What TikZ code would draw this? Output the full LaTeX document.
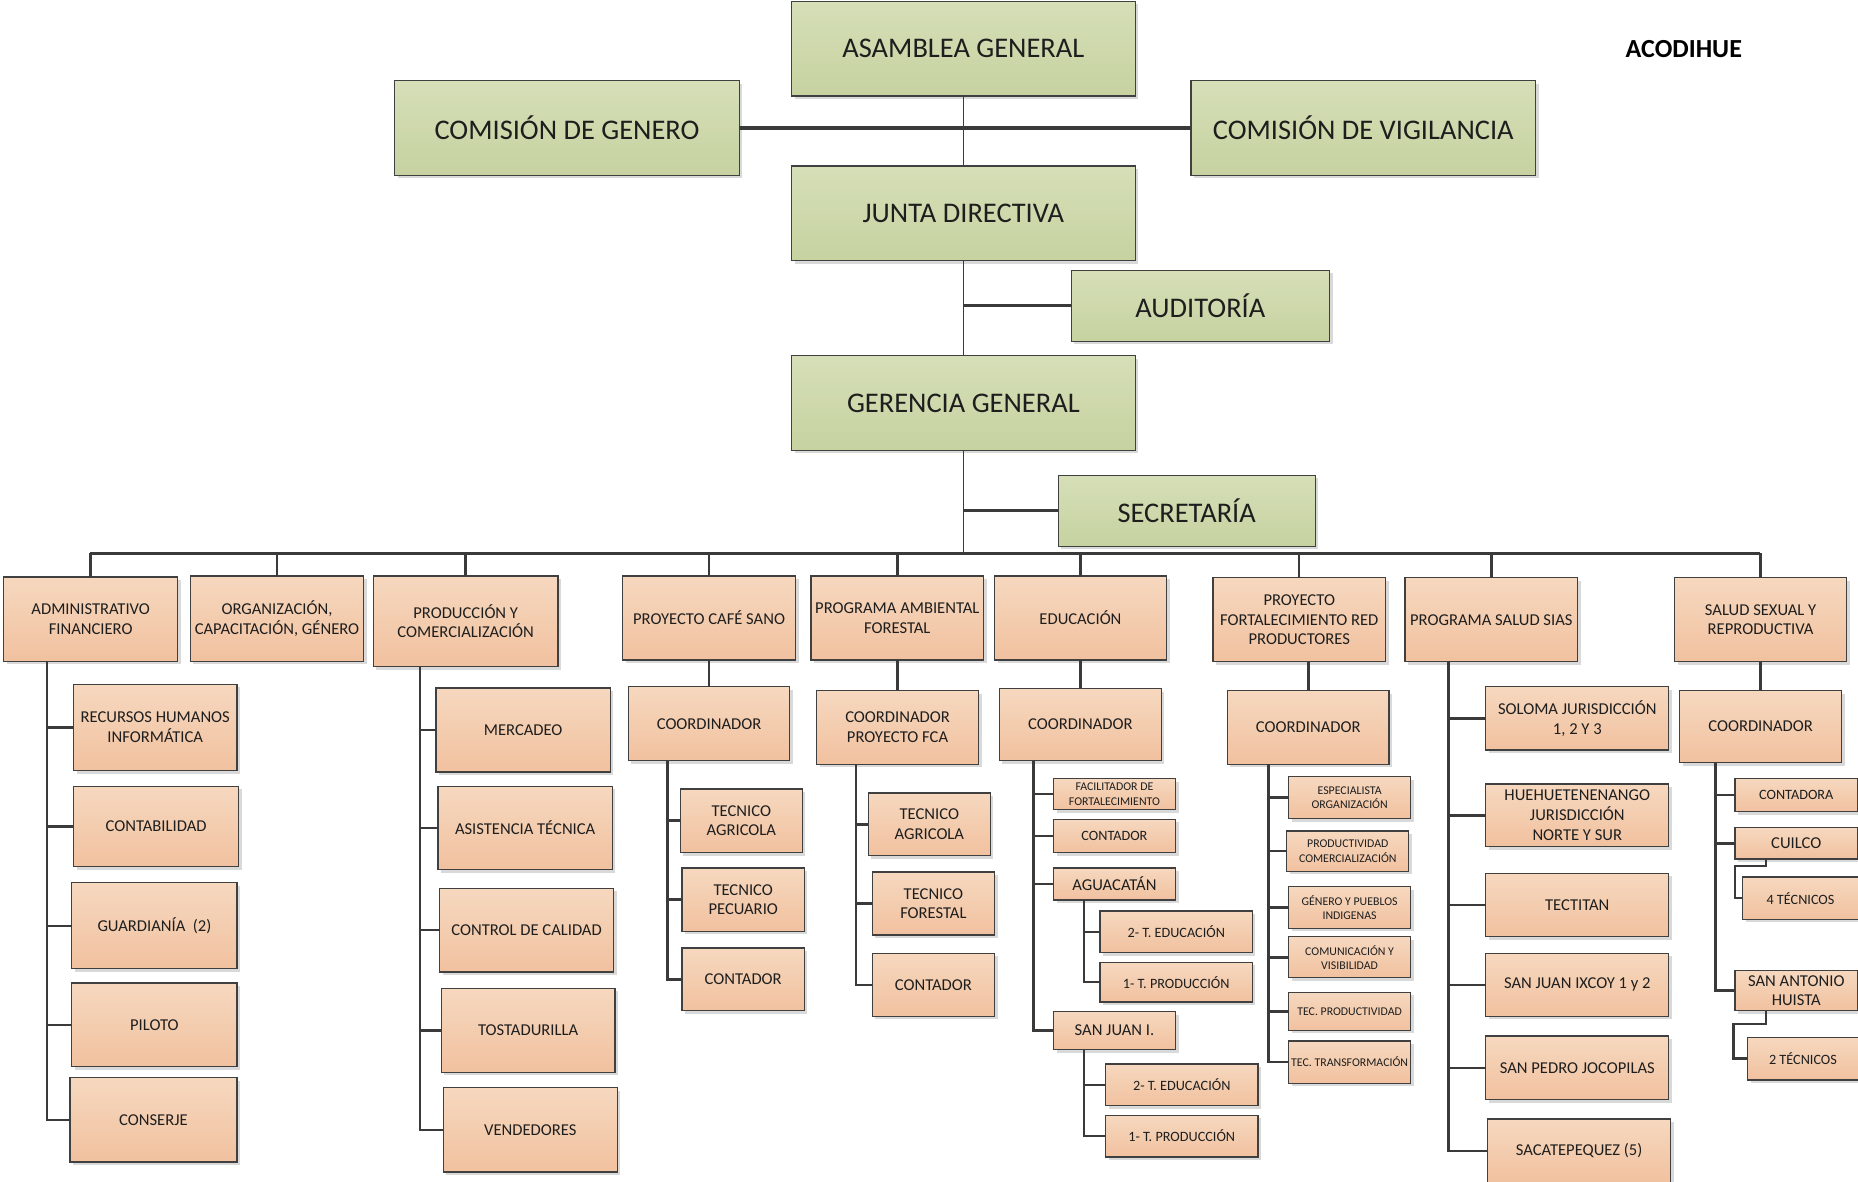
\documentclass[tikz,border=0pt]{standalone}
\usepackage{fontspec}
\setmainfont{Carlito}
\usetikzlibrary{shadows}
\definecolor{gtop}{HTML}{D6DFB8}
\definecolor{gbot}{HTML}{C6D2A0}
\definecolor{otop}{HTML}{F6D8BF}
\definecolor{obot}{HTML}{F1C19F}
\definecolor{bord}{HTML}{404040}
\definecolor{lnc}{HTML}{3A3A3A}
\definecolor{txt}{HTML}{1E1E1E}
\newcommand\bx[7]{%
  \pgfmathsetmacro\bw{(#4-#2)*0.5}%
  \pgfmathsetmacro\bh{(#5-#3)*0.5}%
  \node[#6, minimum width=\bw pt, minimum height=\bh pt] (#1) at ({(#2+#4)/2},{(#3+#5)/2}) {#7};}
\tikzset{
  shbox/.style={draw=bord, line width=0.55pt, align=center, inner sep=0pt, outer sep=0pt, text=txt,
    drop shadow={shadow xshift=1.3pt, shadow yshift=-1.3pt, fill=black!15, opacity=1}},
  gbox/.style={shbox, top color=gtop, bottom color=gbot, font=\fontsize{12}{14}\selectfont},
  obox/.style={shbox, top color=otop, bottom color=obot, font=\fontsize{7}{8.3}\selectfont},
  ssm/.style={font=\fontsize{6}{7}\selectfont},
  xsm/.style={font=\fontsize{5}{6}\selectfont},
  conn/.style={draw=lnc, line width=1.05pt},
  thinl/.style={draw=lnc, line width=0.5pt},
  busl/.style={draw=lnc, line width=1.3pt}
}
\begin{document}
\begin{tikzpicture}[x=0.5pt,y=-0.5pt]
\clip (0,0) rectangle (1568,997.5);
\fill[white] (0,0) rectangle (1568,997.5);
% top level
\bx{asam}{668}{1}{958}{81}{gbox}{ASAMBLEA GENERAL}
\bx{cgen}{333}{68}{624}{148}{gbox}{COMISIÓN DE GENERO}
\bx{cvig}{1005}{68}{1296}{148}{gbox}{COMISIÓN DE VIGILANCIA}
\bx{junta}{668}{140}{958}{220}{gbox}{JUNTA DIRECTIVA}
\bx{aud}{904}{228}{1122}{288}{gbox}{AUDITORÍA}
\bx{ger}{668}{300}{958}{380}{gbox}{GERENCIA GENERAL}
\bx{sec}{893}{401}{1110}{461}{gbox}{SECRETARÍA}
\node[font=\bfseries\fontsize{11}{13}\selectfont, text=black] (logo) at (1421,41) {ACODIHUE};
% level 2
\bx{adm}{3}{487}{150}{558}{obox}{ADMINISTRATIVO\\FINANCIERO}
\bx{org}{160.5}{486}{307}{558}{obox}{ORGANIZACIÓN,\\CAPACITACIÓN, GÉNERO}
\bx{prod}{315}{486}{471}{562.6}{obox}{PRODUCCIÓN Y\\COMERCIALIZACIÓN}
\bx{cafe}{525.5}{486}{671.3}{557}{obox}{PROYECTO CAFÉ SANO}
\bx{amb}{684.5}{486}{830}{557}{obox}{PROGRAMA AMBIENTAL\\FORESTAL}
\bx{edu}{839.2}{486}{984.4}{557}{obox}{EDUCACIÓN}
\bx{fort}{1023.7}{487.6}{1169.2}{558.5}{obox}{PROYECTO\\FORTALECIMIENTO RED\\PRODUCTORES}
\bx{sias}{1185.8}{487.6}{1331.3}{558.5}{obox}{PROGRAMA SALUD SIAS}
\bx{ssr}{1413.1}{487.6}{1558.5}{558.5}{obox}{SALUD SEXUAL Y\\REPRODUCTIVA}
% administrativo
\bx{rrhh}{62}{577.4}{200}{650.4}{obox}{RECURSOS HUMANOS\\INFORMÁTICA}
\bx{cont}{62}{663.5}{201.5}{731.4}{obox}{CONTABILIDAD}
\bx{guard}{60.6}{745}{200}{817.5}{obox}{GUARDIANÍA~~(2)}
\bx{pil}{60.6}{829.6}{200}{900}{obox}{PILOTO}
\bx{cons}{59}{909.5}{200}{980.5}{obox}{CONSERJE}
% produccion
\bx{merc}{368}{580.5}{515}{651.5}{obox}{MERCADEO}
\bx{asis}{369.6}{663.5}{516.8}{734}{obox}{ASISTENCIA TÉCNICA}
\bx{ctrl}{371}{749.7}{517.8}{820.3}{obox}{CONTROL DE CALIDAD}
\bx{tost}{372.4}{834}{519}{905}{obox}{TOSTADURILLA}
\bx{vend}{374}{918}{521}{989}{obox}{VENDEDORES}
% cafe
\bx{ccoord}{530.3}{579.6}{666.5}{641.9}{obox}{COORDINADOR}
\bx{cta}{574.2}{665.8}{677}{719.4}{obox}{TECNICO\\AGRICOLA}
\bx{ctp}{575.6}{732.5}{678.8}{786}{obox}{TECNICO\\PECUARIO}
\bx{ccon}{575.6}{800}{678.8}{852.9}{obox}{CONTADOR}
% ambiental
\bx{acoord}{689.2}{582.7}{825.7}{645}{obox}{COORDINADOR\\PROYECTO FCA}
\bx{ata}{732.8}{669.2}{835.8}{722.1}{obox}{TECNICO\\AGRICOLA}
\bx{atf}{736.2}{736}{839.2}{789}{obox}{TECNICO\\FORESTAL}
\bx{acon}{736.2}{804.5}{839.2}{857.7}{obox}{CONTADOR}
% educacion
\bx{ecoord}{843.4}{581}{980.1}{641.9}{obox}{COORDINADOR}
\bx{efac}{889}{657.1}{992}{683.4}{obox,xsm}{FACILITADOR DE\\FORTALECIMIENTO}
\bx{econ}{889}{691.4}{992}{719.4}{obox,ssm}{CONTADOR}
\bx{eagu}{889}{732.5}{992}{759.5}{obox}{AGUACATÁN}
\bx{eag1}{928.4}{768.8}{1056.9}{803.8}{obox,ssm}{2- T. EDUCACIÓN}
\bx{eag2}{928.4}{812.1}{1056.9}{845.6}{obox,ssm}{1- T. PRODUCCIÓN}
\bx{esji}{889}{853.6}{992}{885.8}{obox}{SAN JUAN I.}
\bx{esj1}{932.9}{897.9}{1061.7}{933.1}{obox,ssm}{2- T. EDUCACIÓN}
\bx{esj2}{932.9}{941.1}{1061.7}{976.4}{obox,ssm}{1- T. PRODUCCIÓN}
% fortalecimiento
\bx{fcoord}{1035.8}{582.7}{1172.3}{645}{obox}{COORDINADOR}
\bx{fa}{1087.6}{655.4}{1190.3}{691}{obox,xsm}{ESPECIALISTA\\ORGANIZACIÓN}
\bx{fb}{1085.9}{701.4}{1188.9}{735.3}{obox,xsm}{PRODUCTIVIDAD\\COMERCIALIZACIÓN}
\bx{fc}{1087.6}{748.1}{1190.3}{783.4}{obox,xsm}{GÉNERO Y PUEBLOS\\INDIGENAS}
\bx{fd}{1087.6}{790.6}{1190.3}{825.2}{obox,xsm}{COMUNICACIÓN Y\\VISIBILIDAD}
\bx{fe}{1087.6}{837.3}{1190.3}{869.5}{obox,xsm}{TEC. PRODUCTIVIDAD}
\bx{ff}{1087.6}{878.5}{1190.3}{914.1}{obox,xsm}{TEC. TRANSFORMACIÓN}
% sias
\bx{sa}{1253.9}{579.6}{1408.3}{632.9}{obox}{SOLOMA JURISDICCIÓN\\1, 2 Y 3}
\bx{sb}{1253.9}{661.6}{1408.3}{714.5}{obox}{HUEHUETENENANGO\\JURISDICCIÓN\\NORTE Y SUR}
\bx{sc}{1253.9}{737}{1408.3}{790.6}{obox}{TECTITAN}
\bx{sd}{1253.9}{804.5}{1408.3}{857.7}{obox}{SAN JUAN IXCOY 1 y 2}
\bx{se}{1253.9}{874.3}{1408.3}{928}{obox}{SAN PEDRO JOCOPILAS}
\bx{sf}{1255.3}{944.2}{1410}{998.2}{obox}{SACATEPEQUEZ (5)}
% salud sexual
\bx{rcoord}{1417.3}{582.7}{1554.3}{643.6}{obox}{COORDINADOR}
\bx{ra}{1464.3}{657.1}{1567.5}{685.1}{obox,ssm}{CONTADORA}
\bx{rb}{1464.3}{698.6}{1567.5}{724.9}{obox}{CUILCO}
\bx{rc}{1470.5}{740.1}{1568.4}{775.8}{obox,ssm}{4 TÉCNICOS}
\bx{rd}{1464.3}{819}{1567.5}{852.9}{obox}{SAN ANTONIO\\HUISTA}
\bx{re}{1474.7}{875.4}{1568.4}{911.4}{obox,ssm}{2 TÉCNICOS}
% ---------- connectors ----------
\coordinate (busL) at (76,467);
\coordinate (busR) at (1485,467);
\draw[thinl] (asam.south) -- (junta.north);
\draw[thinl] (junta.south) -- (ger.north);
\draw[thinl] (ger.south) -- (ger.south |- busL);
\draw[busl] (cgen.east) -- (cvig.west);
\draw[busl] (aud.west) -- (aud.west -| junta.south);
\draw[busl] (sec.west) -- (sec.west -| ger.south);
\draw[busl] (busL) -- (busR);
\foreach \n in {adm,org,prod,cafe,amb,edu,fort,sias,ssr}
  \draw[conn] (\n.north) -- (\n.north |- busL);
\foreach \c/\p in {ccoord/cafe,acoord/amb,ecoord/edu,fcoord/fort,rcoord/ssr}
  \draw[conn] (\c.north) -- (\c.north |- \p.south);
% trunks
\coordinate (admT) at (39.6,558);
\foreach \n in {rrhh,cont,guard,pil,cons} \draw[conn] (admT) |- (\n.west);
\coordinate (prodT) at (354.5,562.6);
\foreach \n in {merc,asis,ctrl,tost,vend} \draw[conn] (prodT) |- (\n.west);
\coordinate (cafT) at (563.5,641.9);
\foreach \n in {cta,ctp,ccon} \draw[conn] (cafT) |- (\n.west);
\coordinate (ambT) at (722.4,645);
\foreach \n in {ata,atf,acon} \draw[conn] (ambT) |- (\n.west);
\coordinate (eduT) at (872.1,641.9);
\foreach \n in {efac,econ,eagu,esji} \draw[conn] (eduT) |- (\n.west);
\coordinate (aguT) at (914.9,759.5);
\foreach \n in {eag1,eag2} \draw[conn] (aguT) |- (\n.west);
\coordinate (sjT) at (914.9,885.8);
\foreach \n in {esj1,esj2} \draw[conn] (sjT) |- (\n.west);
\coordinate (forT) at (1070.7,645);
\foreach \n in {fa,fb,fc,fd,fe,ff} \draw[conn] (forT) |- (\n.west);
\coordinate (siaT) at (1222.4,558.5);
\foreach \n in {sa,sb,sc,sd,se,sf} \draw[conn] (siaT) |- (\n.west);
\coordinate (ssrT) at (1447.7,643.6);
\foreach \n in {ra,rb,rd} \draw[conn] (ssrT) |- (\n.west);
\coordinate (c4a) at (1490.5,730.8);
\coordinate (c4b) at (1464.3,730.8);
\draw[conn] (rb.south -| c4a) -- (c4a) -- (c4b) |- (rc.west);
\coordinate (c2a) at (1490.5,864);
\coordinate (c2b) at (1462.9,864);
\draw[conn] (rd.south -| c2a) -- (c2a) -- (c2b) |- (re.west);
\end{tikzpicture}
\end{document}
